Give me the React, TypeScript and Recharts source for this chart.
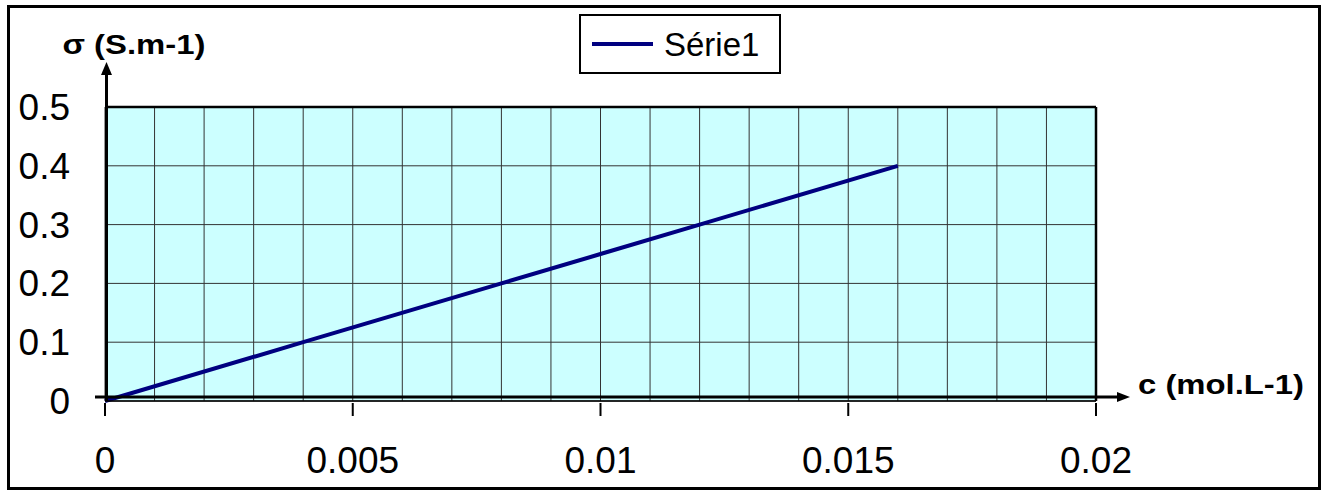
import {
  LineChart,
  Line,
  XAxis,
  YAxis,
  CartesianGrid,
  ReferenceLine,
  Legend
} from 'recharts';

// concentration c (mol/L) and conductivity sigma (S/m)
const concentrations = [0, 0.004, 0.008, 0.01, 0.012, 0.016];
const conductivities = [0, 0.1, 0.2, 0.25, 0.3, 0.4];

const xGridTicks = [
  0, 0.001, 0.002, 0.003, 0.004, 0.005, 0.006, 0.007, 0.008, 0.009, 0.01,
  0.011, 0.012, 0.013, 0.014, 0.015, 0.016, 0.017, 0.018, 0.019, 0.02
];
const xLabelTicks = ['0', '0.005', '0.01', '0.015', '0.02'];
const yTicks = [0, 0.1, 0.2, 0.3, 0.4, 0.5];
const yTickLabels = ['0', '0.1', '0.2', '0.3', '0.4', '0.5'];

const seriesName = 'Série1';
const xTitle = 'c (mol.L-1)';
const yTitle = 'σ (S.m-1)';

const data = concentrations.map((c, i) => ({ c, sigma: conductivities[i] }));

const W = 1323;
const H = 492;
const FONT = '"Liberation Sans", Arial, Helvetica, sans-serif';

function XTick(props: any) {
  const { x, y, payload } = props;
  const label = xLabelTicks.find(l => Math.abs(parseFloat(l) - payload.value) < 1e-9);
  if (label === undefined) return <g />;
  return (
    <g>
      <line x1={x} x2={x} y1={y + 2} y2={y + 15} stroke="#000" strokeWidth={2} />
      <text x={x} y={y + 72} textAnchor="middle" fontSize={37} fontFamily={FONT} fill="#000">
        {label}
      </text>
    </g>
  );
}

function YTick(props: any) {
  const { x, y, payload } = props;
  const idx = yTicks.findIndex(v => Math.abs(v - payload.value) < 1e-9);
  return (
    <text x={x - 35} y={y + 13} textAnchor="end" fontSize={37} fontFamily={FONT} fill="#000">
      {idx >= 0 ? yTickLabels[idx] : ''}
    </text>
  );
}

// x axis drawn as an arrow just above the plot floor, plus the chart frame
function XArrow(props: any) {
  const { x1, x2, y1 } = props;
  const left = Math.min(x1, x2);
  const right = Math.max(x1, x2);
  const ay = y1 - 4;
  const tip = right + 34;
  return (
    <g>
      <rect x={8.5} y={6.5} width={W - 12} height={H - 10} fill="none" stroke="#000" strokeWidth={3} />
      <line x1={left} x2={right} y1={y1} y2={y1} stroke="#000" strokeWidth={1.5} />
      <line x1={left - 10} x2={tip - 10} y1={ay} y2={ay} stroke="#000" strokeWidth={3} />
      <polygon points={`${tip},${ay} ${tip - 13},${ay - 5} ${tip - 13},${ay + 5}`} fill="#000" />
      <text x={tip + 8} y={y1 - 7} fontSize={28} fontWeight="bold" fontFamily={FONT} fill="#000"
        textLength={166} lengthAdjust="spacingAndGlyphs">
        {xTitle}
      </text>
    </g>
  );
}

function YArrow(props: any) {
  const { x1, y1, y2 } = props;
  const top = Math.min(y1, y2);
  const bottom = Math.max(y1, y2);
  const ax = x1 + 1.5;
  const tip = top - 45;
  return (
    <g>
      <line x1={ax} x2={ax} y1={bottom} y2={tip + 10} stroke="#000" strokeWidth={3} />
      <polygon points={`${ax},${tip} ${ax - 5.5},${tip + 13} ${ax + 5.5},${tip + 13}`} fill="#000" />
      <text x={ax - 44} y={tip - 8} fontSize={28} fontWeight="bold" fontFamily={FONT} fill="#000"
        textLength={143} lengthAdjust="spacingAndGlyphs">
        {yTitle}
      </text>
    </g>
  );
}

function LegendBox() {
  return (
    <div
      style={{
        width: 202,
        height: 60,
        border: '2.5px solid #000',
        boxSizing: 'border-box',
        background: '#fff',
        display: 'flex',
        alignItems: 'center',
        fontFamily: FONT,
        fontSize: 33
      }}
    >
      <div style={{ width: 61, height: 4, background: '#000080', marginLeft: 11, marginRight: 11 }} />
      <span style={{ lineHeight: 1 }}>{seriesName}</span>
    </div>
  );
}

export default function App() {
  return (
    <div style={{ position: 'absolute', left: 0, top: 0, width: W, height: H, background: '#fff' }}>
      <LineChart
        width={W}
        height={H}
        data={data}
        margin={{ top: 107, right: 227, bottom: 31, left: 45 }}
      >
        <CartesianGrid fill="#ccffff" stroke="#333" strokeWidth={1} />
        <XAxis
          dataKey="c"
          type="number"
          domain={[0, 0.02]}
          ticks={xGridTicks}
          interval={0}
          height={60}
          axisLine={false}
          tickLine={false}
          tickSize={0}
          tickMargin={0}
          tick={<XTick />}
        />
        <YAxis
          type="number"
          domain={[0, 0.5]}
          ticks={yTicks}
          interval={0}
          width={60}
          axisLine={false}
          tickLine={false}
          tickSize={0}
          tickMargin={0}
          tick={<YTick />}
        />
        <ReferenceLine y={0.5} stroke="#000" strokeWidth={2.5} />
        <ReferenceLine x={0.02} stroke="#000" strokeWidth={2.5} />
        <Legend
          layout="vertical"
          align="center"
          verticalAlign="middle"
          content={<LegendBox />}
          wrapperStyle={{ top: 14, left: 579, width: 202, height: 60 }}
        />
        <Line
          type="linear"
          dataKey="sigma"
          name={seriesName}
          stroke="#000080"
          strokeWidth={4}
          dot={false}
          isAnimationActive={false}
        />
        <ReferenceLine y={0} shape={<XArrow />} ifOverflow="visible" />
        <ReferenceLine x={0} shape={<YArrow />} ifOverflow="visible" />
      </LineChart>
    </div>
  );
}
